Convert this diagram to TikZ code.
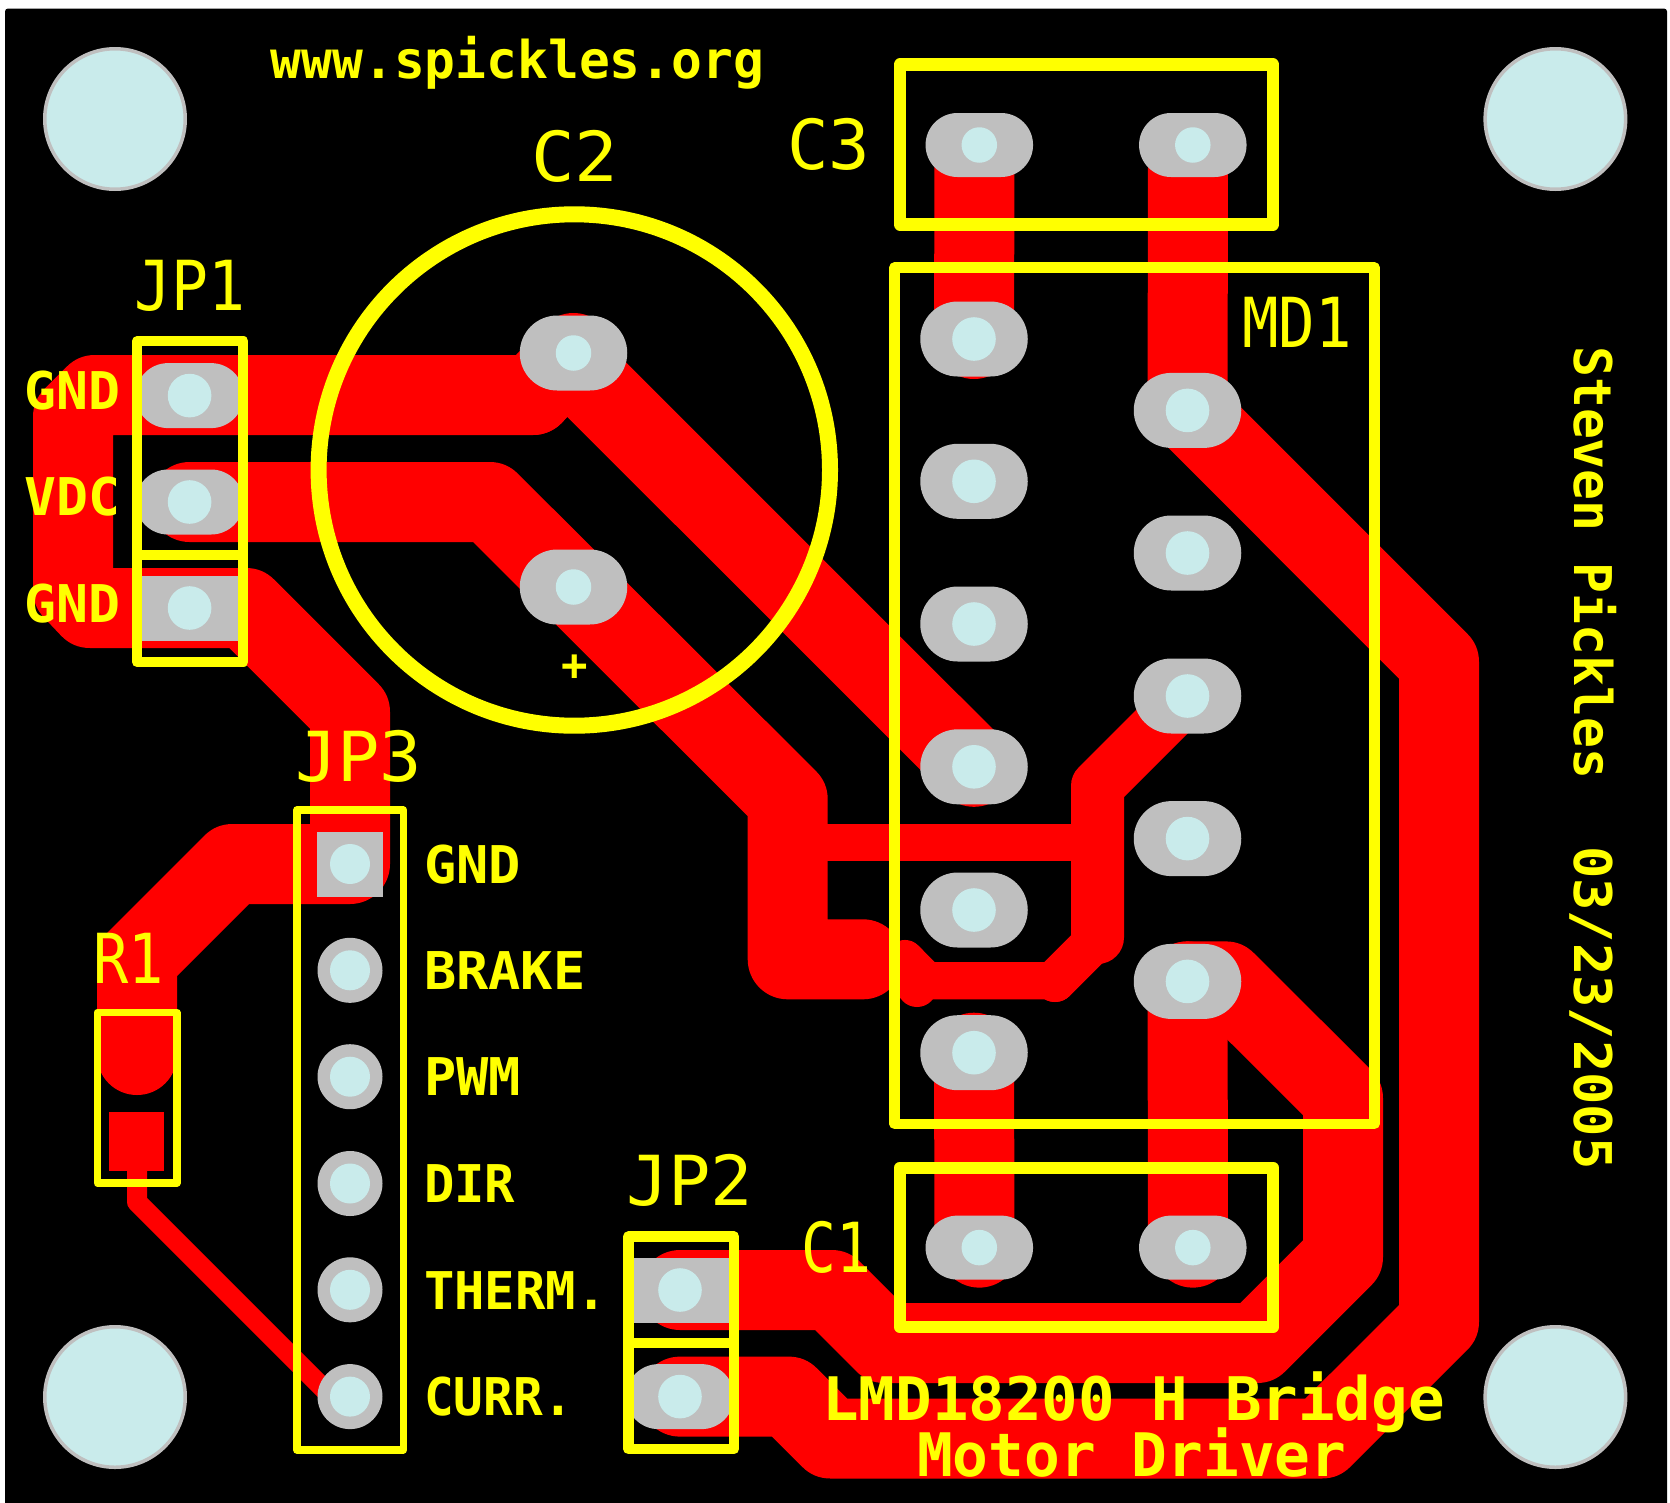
\documentclass[tikz,border=0pt]{standalone}
\usepackage{fontspec}
\newfontfamily\pcbreg{DejaVu Sans Mono}
\newfontfamily\pcbbold{DejaVu Sans Mono Bold}
\definecolor{pcbred}{HTML}{FF0000}
\definecolor{pcbyel}{HTML}{FFFF00}
\definecolor{padgray}{HTML}{BFBFBF}
\definecolor{holeteal}{HTML}{C9EBEB}
\tikzset{
  trace/.style={draw=pcbred,line width=80pt,line cap=round,line join=round},
  midtrace/.style={draw=pcbred,line width=53pt,line cap=round,line join=round},
  thintrace/.style={draw=pcbred,line width=37.3pt,line cap=round,line join=round},
  hairtrace/.style={draw=pcbred,line width=20pt,line cap=round,line join=round},
  silk/.style={draw=pcbyel,line width=#1pt,line join=round},
  oblong/.style 2 args={rectangle,fill=padgray,inner sep=0pt,minimum width=#1pt,minimum height=#2pt,rounded corners=#2/2*1pt-0.01pt},
  squarepad/.style 2 args={rectangle,fill=padgray,inner sep=0pt,minimum width=#1pt,minimum height=#2pt},
  roundpad/.style={circle,fill=padgray,inner sep=0pt,minimum size=65pt},
  drill/.style={circle,fill=holeteal,inner sep=0pt,minimum size=#1pt},
  mount/.style={circle,fill=holeteal,draw=padgray,line width=3.5pt,inner sep=0pt,minimum size=140.5pt},
  smalltxt/.style={text=pcbyel,inner sep=0pt,anchor=base west,font=\pcbbold\fontsize{52}{52}\selectfont},
  bigtxt/.style={text=pcbyel,inner sep=0pt,anchor=base west,font=\pcbreg\fontsize{69}{69}\selectfont},
  titletxt/.style={text=pcbyel,inner sep=0pt,anchor=base west,font=\pcbbold\fontsize{60}{60}\selectfont},
}
\begin{document}
\begin{tikzpicture}[x=1pt,y=-1pt]
\useasboundingbox (0,0) rectangle (1670,1502);
\fill[white] (0,0) rectangle (1670,1502);
\fill[black,rounded corners=3pt] (5,8.5) rectangle (1667,1510);
% pad centres
\coordinate (jpa) at (189.6,395.6);
\coordinate (jpb) at (189.6,502);
\coordinate (jpc) at (189.6,608);
\coordinate (ctop) at (573.5,353);
\coordinate (cbot) at (573.5,587);
\coordinate (cta) at (979.3,145);
\coordinate (ctb) at (1192.8,145);
\coordinate (cba) at (979.3,1247.6);
\coordinate (cbb) at (1192.8,1247.6);
\coordinate (ma) at (974,339);
\coordinate (mb) at (974,481.3);
\coordinate (mc) at (974,624);
\coordinate (md) at (974,766.8);
\coordinate (me) at (974,910);
\coordinate (mf) at (974,1052.7);
\coordinate (na) at (1187.5,410.4);
\coordinate (nb) at (1187.5,553);
\coordinate (nc) at (1187.5,696);
\coordinate (nd) at (1187.5,838.6);
\coordinate (ne) at (1187.5,981.4);
\coordinate (sa) at (350,864);
\coordinate (sb) at (350,970.3);
\coordinate (sc) at (350,1076.7);
\coordinate (sd) at (350,1183.5);
\coordinate (se) at (350,1289.8);
\coordinate (sf) at (350,1396.6);
\coordinate (ra) at (680,1290);
\coordinate (rb) at (680,1396.6);
% traces
\draw[trace] (974.5,160) -- (ma);
\draw[trace] (1188,160) -- (na) -- (1439,662) -- (1439,1321.6) -- (1322,1438.5) -- (830.5,1438.5) -- (788.6,1396.6) -- (rb);
\draw[trace] (ra) -- (831.6,1290) -- (884.6,1343) -- (1257,1343) -- (1343,1257) -- (1343,1098.4) -- (1225.6,981.4) -- (ne);
\draw[trace] (ne) -- (1188,1235) -- (cbb);
\draw[trace] (mf) -- (974.5,1235) -- (cba);
\draw[trace] (533,395) -- (95,395) -- (73,417) -- (73,590) -- (90,608) -- (jpc) -- (246,608) -- (350,712) -- (sa) -- (232.6,864) -- (137,959.6) -- (137,1055);
\draw[trace] (533,395) -- (ctop);
\draw[trace] (md) -- (566,359);
\draw[trace] (jpb) -- (489.6,502) -- (787.7,799.4) -- (787.7,959.3) -- (863,959.3);
\draw[thintrace] (787.7,842.5) -- (1097.5,842.5);
\draw[midtrace] (nc) -- (1097.5,786) -- (1097.5,937.5);
\draw[thintrace] (905,958.6) -- (927,980.7) -- (1055,980.7);
\fill[pcbred] (917,987) circle[radius=20];
\fill[pcbred] (1055,982) circle[radius=20];
\draw[draw=pcbred,line width=42pt,line cap=round] (1055,981) -- (1097.5,938.5);
\fill[pcbred] (109,1112) rectangle (164,1171);
\draw[hairtrace] (137,1165) -- (137,1202) -- (345,1410);
% pads
\foreach \n in {jpa,jpb} \node[oblong={108}{65}] (pad\n) at (\n) {};
\node[squarepad={108}{65}] (padjpc) at (jpc) {};
\foreach \n in {ctop,cbot} \node[oblong={107.5}{75}] (pad\n) at (\n) {};
\foreach \n in {cta,ctb,cba,cbb} \node[oblong={107.5}{64}] (pad\n) at (\n) {};
\foreach \n in {ma,mb,mc,md,me,mf,na,nb,nc,nd,ne} \node[oblong={107.5}{75}] (pad\n) at (\n) {};
\node[squarepad={65.6}{65}] (padsa) at (sa) {};
\foreach \n in {sb,sc,sd,se,sf} \node[roundpad] (pad\n) at (\n) {};
\node[squarepad={108}{65}] (padra) at (ra) {};
\node[oblong={108}{65}] (padrb) at (rb) {};
% drills
\foreach \n in {jpa,jpb,jpc,ma,mb,mc,md,me,mf,na,nb,nc,nd,ne,ra,rb} \node[drill=43.6] (dr\n) at (\n) {};
\foreach \n in {ctop,cbot,cta,ctb,cba,cbb} \node[drill=35.5] (dr\n) at (\n) {};
\foreach \n in {sa,sb,sc,sd,se,sf} \node[drill=40] (dr\n) at (\n) {};
% mounting holes
\node[mount] (mtl) at (115,119) {};
\node[mount] (mtr) at (1555.4,119) {};
\node[mount] (mbl) at (115,1397) {};
\node[mount] (mbr) at (1555.4,1397) {};
% silkscreen
\draw[silk=10] (137,341.2) rectangle (243.4,662);
\draw[silk=10] (137,554.7) -- (243.4,554.7);
\draw[silk=16] (574.3,470) circle[radius=255.7];
\draw[silk=12.5] (900,64.7) rectangle (1273,224.4);
\draw[silk=12.5] (900,1167.8) rectangle (1273,1327);
\draw[silk=10.3] (894.6,267.5) rectangle (1374.4,1123.8);
\draw[silk=7.5] (297,810) rectangle (403.3,1450);
\draw[silk=10.5] (628.3,1236.7) rectangle (734,1449);
\draw[silk=10.5] (628.3,1343) -- (734,1343);
\draw[silk=7.5] (97.4,1012.5) rectangle (176.8,1183);
% labels
\node[smalltxt,xscale=.985] (tweb) at (270.5,78) {www.spickles.org};
\node[bigtxt,xscale=1.05] (tc2) at (531,181) {C2};
\node[bigtxt,xscale=.89] (tjp1) at (134,310) {JP1};
\node[bigtxt] (tc3) at (787,169) {C3};
\node[bigtxt,xscale=.88] (tmd) at (1242,347) {MD1};
\node[bigtxt,xscale=1.02] (tjp3) at (295,781) {JP3};
\node[bigtxt,xscale=.85] (tr1) at (93,983) {R1};
\node[bigtxt,xscale=1.02] (tjp2) at (626,1205.5) {JP2};
\node[bigtxt,xscale=.84] (tc1) at (801,1272) {C1};
\node[smalltxt,xscale=1.02] (tga) at (24,409.5) {GND};
\node[smalltxt,xscale=1.02] (tvd) at (24,515.8) {VDC};
\node[smalltxt,xscale=1.02] (tgb) at (24,622.6) {GND};
\node[smalltxt,xscale=1.03] (tsa) at (424,883) {GND};
\node[smalltxt,xscale=1.03] (tsb) at (424,989.5) {BRAKE};
\node[smalltxt,xscale=1.03] (tsc) at (424,1095.8) {PWM};
\node[smalltxt,xscale=.97] (tsd) at (424,1202) {DIR};
\node[smalltxt,xscale=.97] (tse) at (424,1309) {THERM.};
\node[smalltxt,xscale=.95] (tsf) at (424,1415) {CURR.};
\node[text=pcbyel,inner sep=0pt,font=\pcbbold\fontsize{44}{44}\selectfont] (tplus) at (574.5,668) {+};
\node[titletxt,xscale=1.014] (tla) at (822,1420) {LMD18200 H Bridge};
\node[titletxt,xscale=.99] (tlb) at (917,1476) {Motor Driver};
\node[smalltxt,rotate=-90,xscale=.988] (tst) at (1574,346) {Steven Pickles};
\node[smalltxt,rotate=-90,xscale=1.033] (tdt) at (1574,846) {03/23/2005};
\end{tikzpicture}
\end{document}
